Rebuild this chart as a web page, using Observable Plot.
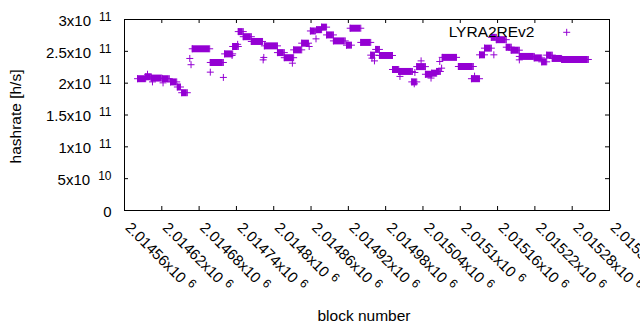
<!DOCTYPE html>
<html>
<head>
<meta charset="utf-8">
<script src="https://cdn.jsdelivr.net/npm/d3@7"></script>
<script src="https://cdn.jsdelivr.net/npm/@observablehq/plot@0.6"></script>
<style>
  html, body { margin: 0; padding: 0; background: #fff; }
  svg text { font-family: 'Liberation Sans', Arial, sans-serif; }
</style>
</head>
<body>
<div id="chart"></div>
<script>
// Runs of constant hashrate: start block, end block, hashrate (h/s)
const runStart = [2014581, 2014594, 2014603, 2014621, 2014634, 2014645, 2014652, 2014669, 2014698, 2014721,
  2014734, 2014743, 2014751, 2014764, 2014785, 2014806, 2014817, 2014832, 2014845, 2014859,
  2014869, 2014877, 2014885, 2014896, 2014917, 2014923, 2014940, 2014956, 2014964, 2014970,
  2014991, 2015001, 2015022, 2015030, 2015044, 2015054, 2015062, 2015071, 2015097, 2015118,
  2015131, 2015139, 2015150, 2015158, 2015174, 2015182, 2015195, 2015219, 2015231, 2015239,
  2015248, 2015263];
const runEnd = [2014594, 2014603, 2014620, 2014632, 2014644, 2014650, 2014661, 2014697, 2014719, 2014734,
  2014743, 2014751, 2014764, 2014782, 2014806, 2014817, 2014832, 2014845, 2014856, 2014867,
  2014877, 2014885, 2014896, 2014915, 2014925, 2014940, 2014956, 2014962, 2014970, 2014991,
  2015001, 2015023, 2015030, 2015044, 2015054, 2015062, 2015068, 2015094, 2015121, 2015131,
  2015139, 2015150, 2015158, 2015174, 2015182, 2015195, 2015219, 2015231, 2015239, 2015248,
  2015263, 2015306];
const runHash = [207e9, 210e9, 208e9, 207e9, 202e9, 194e9, 185e9, 254e9, 232.5e9, 246e9,
  257.6e9, 281e9, 273e9, 265.5e9, 258.6e9, 248e9, 240e9, 252.3e9, 262.8e9, 282e9,
  284e9, 288e9, 275.8e9, 266.4e9, 259.7e9, 286.3e9, 264e9, 244e9, 253e9, 243.5e9,
  221.5e9, 218.4e9, 202e9, 226e9, 214e9, 215.7e9, 218.4e9, 240.5e9, 226.2e9, 207e9,
  244.5e9, 255e9, 272e9, 268.3e9, 256.5e9, 251.8e9, 242e9, 239.7e9, 233.5e9, 244e9,
  238.8e9, 237.2e9];

// Isolated samples
const pointBlock = [2014597, 2014605, 2014622, 2014665, 2014667, 2014698, 2014719, 2014733, 2014742, 2014783,
  2014784, 2014830, 2014857, 2014868, 2014958, 2014962, 2015003, 2015027, 2015026, 2015037,
  2015053, 2015070, 2015067, 2015123, 2015154, 2015195];
const pointHash = [214e9, 202e9, 200.5e9, 238.8e9, 229e9, 217.3e9, 209e9, 243.5e9, 261e9, 236.6e9,
  240.4e9, 231.4e9, 257.6e9, 269.6e9, 239.3e9, 235e9, 210.6e9, 216.8e9, 199e9, 235e9,
  208e9, 223.6e9, 234e9, 211e9, 244.5e9, 236.6e9];

// Tick values and labels
const xTickValues = [2014560, 2014620, 2014680, 2014740, 2014800, 2014860, 2014920, 2014980, 2015040, 2015100, 2015160, 2015220, 2015280, 2015340];
const xTickBase = ["2.01456x10", "2.01462x10", "2.01468x10", "2.01474x10", "2.0148x10", "2.01486x10", "2.01492x10",
  "2.01498x10", "2.01504x10", "2.0151x10", "2.01516x10", "2.01522x10", "2.01528x10", "2.01534x10"];
const xTickExp = ["6", "6", "6", "6", "6", "6", "6", "6", "6", "6", "6", "6", "6", "6"];
const yTickValues = [0, 5e10, 1e11, 1.5e11, 2e11, 2.5e11, 3e11];
const yTickBase = ["0", "5x10", "1x10", "1.5x10", "2x10", "2.5x10", "3x10"];
const yTickExp = ["", "10", "11", "11", "11", "11", "11"];

const seriesName = "LYRA2REv2";
const xLabel = "block number";
const yLabel = "hashrate [h/s]";
const color = "#9400d3";
const ink = "#000";

const runs = runStart.map((s, i) => ({start: s, end: runEnd[i], hash: runHash[i]}));
const points = pointBlock.map((b, i) => ({block: b, hash: pointHash[i]}));

const plusR = 2.39;
const font = "'Liberation Sans', Arial, sans-serif";

const chart = Plot.plot({
  width: 640,
  height: 330,
  marginLeft: 124,
  marginRight: 31,
  marginTop: 19,
  marginBottom: 120,
  style: {background: "white", fontFamily: font, overflow: "visible"},
  x: {domain: [2014560, 2015340], axis: null},
  y: {domain: [0, 3e11], axis: null},
  marks: [
    Plot.ruleY(runs, {x1: "start", x2: "end", y: "hash", stroke: color, strokeWidth: 7}),
    Plot.dot(runs, {x: "start", y: "hash", symbol: "plus", r: plusR, stroke: color, strokeWidth: 1}),
    Plot.dot(runs, {x: "end", y: "hash", symbol: "plus", r: plusR, stroke: color, strokeWidth: 1}),
    Plot.dot(points, {x: "block", y: "hash", symbol: "plus", r: plusR, stroke: color, strokeWidth: 1}),
    Plot.frame({stroke: "black", strokeWidth: 1}),
    Plot.tickX(xTickValues, {x: d => d, insetTop: 187, stroke: "black"}),
    Plot.tickX(xTickValues, {x: d => d, insetBottom: 187, stroke: "black"}),
    Plot.tickY(yTickValues, {y: d => d, insetRight: 481, stroke: "black"}),
    Plot.tickY(yTickValues, {y: d => d, insetLeft: 481, stroke: "black"}),
    Plot.text(yTickValues, {
      y: d => d, frameAnchor: "left", dx: -13, dy: 1.5, textAnchor: "end",
      text: (d, i) => yTickBase[i], fontSize: 15, fill: ink, ariaLabel: (d, i) => "ytl" + i
    }),
    Plot.text(xTickValues, {
      x: d => d, frameAnchor: "bottom", rotate: 45, textAnchor: "start", lineAnchor: "bottom",
      dy: 18, dx: 0, text: (d, i) => xTickBase[i], fontSize: 15, fill: ink, ariaLabel: (d, i) => "xtl" + i
    })
  ]
});

const svg = d3.select(chart);
// superscript exponents
yTickExp.forEach((e, i) => {
  if (!e) return;
  svg.select(`text[aria-label="ytl${i}"]`)
    .append("tspan").attr("dx", 8).attr("dy", -5).attr("font-size", 12).text(e);
});
xTickExp.forEach((e, i) => {
  if (!e) return;
  svg.select(`text[aria-label="xtl${i}"]`)
    .append("tspan").attr("dx", 5).attr("dy", -5).attr("font-size", 12).text(e);
});

// legend
svg.append("text").attr("x", 534.5).attr("y", 37.3).attr("text-anchor", "end")
  .attr("font-size", 15.5).attr("fill", ink).attr("font-family", font).text(seriesName);
svg.append("path").attr("transform", "translate(566.7,32.3)")
  .attr("d", d3.symbol(d3.symbolPlus, Math.PI * plusR * plusR)())
  .attr("stroke", color).attr("fill", "none");

// axis titles
svg.append("text").attr("x", 364).attr("y", 321).attr("text-anchor", "middle")
  .attr("font-size", 15.5).attr("fill", ink).attr("font-family", font).text(xLabel);
svg.append("text").attr("transform", "translate(21,116.5) rotate(-90)").attr("text-anchor", "middle")
  .attr("font-size", 15.5).attr("fill", ink).attr("font-family", font).text(yLabel);

document.getElementById("chart").appendChild(chart);
</script>
</body>
</html>
